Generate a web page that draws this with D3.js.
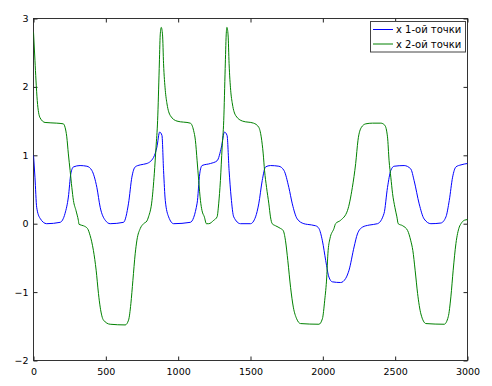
<!DOCTYPE html>
<html>
<head>
<meta charset="utf-8">
<script src="https://cdn.jsdelivr.net/npm/d3@7"></script>
<style>
  body { margin: 0; background: #fff; }
  text { font-family: "DejaVu Sans", sans-serif; fill: #000; }
</style>
</head>
<body>
<svg id="chart" width="492" height="386"></svg>
<script>
// x-координата 1-ой точки (time, value)
const t1 = [0, 10, 22, 45, 91, 184, 218, 241, 258, 276, 322, 369, 403, 438, 461, 496, 530,
  622, 657, 680, 703, 738, 784, 830, 853, 872, 888, 899, 911, 934, 969,
  1084, 1131, 1149, 1165, 1223, 1269, 1299, 1320, 1338, 1352, 1366, 1384, 1431,
  1500, 1535, 1557, 1581, 1604, 1638, 1696, 1731, 1765, 1789, 1823, 1869, 1893, 1950, 1973,
  1997, 2020, 2042, 2066, 2123, 2158, 2181, 2216, 2239, 2274, 2320, 2378,
  2423, 2447, 2470, 2493, 2562, 2608, 2631, 2666, 2700, 2747, 2816, 2851, 2874, 2897,
  2920, 2955, 3000];
const v1 = [1.0, 0.68, 0.24, 0.08, 0, 0.02, 0.15, 0.39, 0.73, 0.83, 0.85, 0.84, 0.78, 0.53, 0.24, 0.05, 0,
  0.02, 0.3, 0.68, 0.83, 0.86, 0.88, 0.97, 1.12, 1.34, 1.29, 0.78, 0.34, 0.1, 0,
  0.02, 0.3, 0.73, 0.85, 0.88, 0.92, 1.12, 1.34, 1.29, 0.78, 0.39, 0.1, 0,
  0, 0.1, 0.29, 0.63, 0.83, 0.85, 0.84, 0.78, 0.53, 0.29, 0.07, 0, -0.01, -0.03, -0.07,
  -0.25, -0.54, -0.78, -0.85, -0.86, -0.8, -0.68, -0.34, -0.15, -0.05, -0.02, 0,
  0.15, 0.53, 0.78, 0.84, 0.85, 0.8, 0.63, 0.29, 0.07, 0, 0.01, 0.1, 0.34, 0.68,
  0.83, 0.86, 0.88];

// x-координата 2-ой точки
const t2 = [0, 10, 17, 26, 45, 80, 161, 206, 218, 230, 241, 253, 265, 276, 294, 310, 315,
  345, 373, 391, 414, 433, 449, 461, 484, 530, 634, 657, 673, 687, 703, 715, 738, 761,
  784, 795, 819, 835, 847, 858, 869, 876, 883, 892, 899, 911, 923, 946, 992,
  1084, 1107, 1119, 1131, 1142, 1154, 1165, 1181, 1195, 1211, 1246, 1269, 1280, 1292, 1304,
  1315, 1325, 1332, 1337, 1345, 1352, 1363, 1375, 1398, 1445, 1521,
  1557, 1574, 1588, 1597, 1611, 1627, 1638, 1650, 1673, 1708, 1726, 1742, 1758, 1777, 1796,
  1819, 1846, 1973, 1997, 2013, 2027, 2035, 2049, 2077, 2088, 2123, 2170, 2204, 2227, 2243,
  2267, 2297, 2343, 2401, 2428, 2447, 2458, 2470, 2482, 2498, 2512, 2521, 2552, 2586, 2608,
  2622, 2638, 2655, 2678, 2713, 2839, 2867, 2885, 2901, 2920, 2943, 2955, 2978, 3000];
const v2 = [2.8, 2.39, 2.1, 1.8, 1.55, 1.48, 1.47, 1.46, 1.41, 1.27, 1.02, 0.78, 0.53, 0.34, 0.19, 0.05, -0.01,
  -0.03, -0.07, -0.17, -0.39, -0.68, -1.02, -1.22, -1.41, -1.47, -1.48, -1.41, -1.17, -0.83, -0.44, -0.24, -0.07, 0,
  0.04, 0.1, 0.34, 0.73, 1.12, 1.51, 2.27, 2.76, 2.87, 2.76, 2.34, 1.95, 1.75, 1.58, 1.5,
  1.47, 1.36, 1.22, 0.92, 0.63, 0.34, 0.19, 0.1, 0, 0, 0.05, 0.1, 0.29, 0.63, 1.12,
  1.51, 2.27, 2.76, 2.87, 2.76, 2.34, 1.95, 1.75, 1.58, 1.5, 1.47,
  1.41, 1.27, 1.02, 0.78, 0.53, 0.29, 0.1, 0, -0.03, -0.07, -0.1, -0.25, -0.54, -0.93, -1.22,
  -1.39, -1.46, -1.47, -1.39, -1.12, -0.78, -0.44, -0.22, -0.07, 0, 0.05, 0.19, 0.53, 0.88, 1.22,
  1.41, 1.46, 1.47, 1.47, 1.44, 1.27, 0.92, 0.68, 0.44, 0.24, 0.1, 0, -0.03, -0.1, -0.25,
  -0.39, -0.68, -1.02, -1.32, -1.46, -1.47, -1.36, -1.07, -0.68, -0.29, -0.05, 0, 0.05, 0.06];

const xTicks = [0, 500, 1000, 1500, 2000, 2500, 3000];
const yTicks = [-2, -1, 0, 1, 2, 3];
const seriesNames = ["x 1-ой точки", "x 2-ой точки"];
const seriesColors = ["#0000ff", "#008000"];

const plotL = 33.5, plotR = 467.5, plotT = 18.5, plotB = 360.5;

const svg = d3.select("#chart");

const xScale = d3.scaleLinear().domain([0, 3000]).range([plotL, plotR]);
const yScale = d3.scaleLinear().domain([-2, 3]).range([plotB, plotT]);

const series = [
  t1.map((t, i) => [t, v1[i]]),
  t2.map((t, i) => [t, v2[i]])
];

svg.append("defs").append("clipPath")
  .attr("id", "clip")
  .append("rect")
  .attr("x", plotL).attr("y", plotT)
  .attr("width", plotR - plotL).attr("height", plotB - plotT);

const line = d3.line()
  .x(d => xScale(d[0]))
  .y(d => yScale(d[1]))
  .curve(d3.curveMonotoneX);

// frame
svg.append("rect")
  .attr("x", plotL).attr("y", plotT)
  .attr("width", plotR - plotL).attr("height", plotB - plotT)
  .attr("fill", "none").attr("stroke", "#333").attr("stroke-width", 1);

// axes with inward ticks on all four sides
const tl = 4;
const fmt = d3.format("d");
svg.append("g").attr("transform", `translate(0,${plotB})`)
  .call(d3.axisBottom(xScale).tickValues(xTicks).tickFormat(fmt).tickSizeInner(-tl).tickSizeOuter(0).tickPadding(8))
  .call(g => g.select(".domain").remove());
svg.append("g").attr("transform", `translate(0,${plotT})`)
  .call(d3.axisTop(xScale).tickValues(xTicks).tickSizeInner(-tl).tickSizeOuter(0).tickFormat(""))
  .call(g => g.select(".domain").remove());
svg.append("g").attr("transform", `translate(${plotL},0)`)
  .call(d3.axisLeft(yScale).tickValues(yTicks).tickFormat(fmt).tickSizeInner(-tl).tickSizeOuter(0).tickPadding(5))
  .call(g => g.select(".domain").remove());
svg.append("g").attr("transform", `translate(${plotR},0)`)
  .call(d3.axisRight(yScale).tickValues(yTicks).tickSizeInner(-tl).tickSizeOuter(0).tickFormat(""))
  .call(g => g.select(".domain").remove());

svg.selectAll(".tick line").attr("stroke", "#222");
svg.selectAll(".tick text")
  .attr("font-family", "DejaVu Sans, sans-serif")
  .attr("font-size", 9.5)
  .attr("fill", "#000");

// series
svg.append("g").attr("clip-path", "url(#clip)")
  .selectAll("path")
  .data(series)
  .join("path")
  .attr("d", line)
  .attr("fill", "none")
  .attr("stroke", (d, i) => seriesColors[i])
  .attr("stroke-width", 1);

// legend
const legend = svg.append("g");
legend.append("rect")
  .attr("x", 370.5).attr("y", 21.5)
  .attr("width", 95).attr("height", 30.5)
  .attr("fill", "#fff").attr("stroke", "#444");
const items = legend.selectAll("g.item")
  .data(seriesNames)
  .join("g")
  .attr("class", "item")
  .attr("transform", (d, i) => `translate(0,${29.5 + i * 14.5})`);
items.append("line")
  .attr("x1", 373).attr("x2", 393)
  .attr("stroke", (d, i) => seriesColors[i]);
items.append("text")
  .attr("x", 396).attr("y", 3.5)
  .attr("font-size", 10)
  .text(d => d);
</script>
</body>
</html>
